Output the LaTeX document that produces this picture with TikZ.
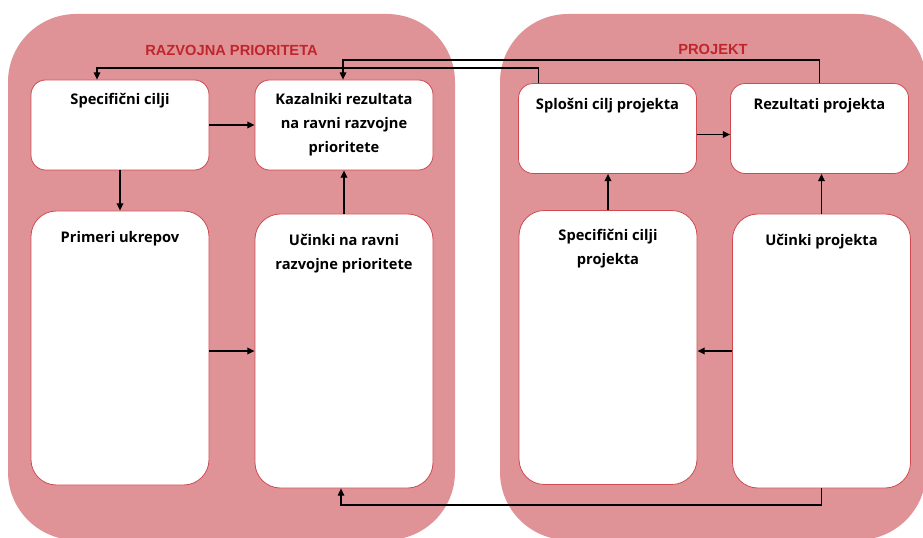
\documentclass[tikz,border=0pt]{standalone}
\usepackage{fontspec}
\setmainfont{Open Sans}
\newfontfamily\titlefont{Liberation Sans}
\usetikzlibrary{arrows.meta,positioning}
\definecolor{panelpink}{HTML}{E09397}
\definecolor{titlered}{HTML}{C0252B}
\definecolor{boxred}{HTML}{CF4A50}

\begin{document}
\begin{tikzpicture}[x=0.75pt,y=-0.75pt,
    panel/.style={fill=panelpink, rounded corners=51pt, minimum height=394.5pt, inner sep=0pt},
    ttl/.style={font=\titlefont\bfseries\fontsize{11}{13}\selectfont, text=titlered},
    box/.style={draw=boxred, line width=0.6pt, fill=white, minimum width=133.5pt, inner sep=0pt},
    topbox/.style={box, rounded corners=11pt, minimum height=67.5pt},
    lowbox/.style={box, rounded corners=19pt, minimum height=205.5pt},
    txt/.style={font=\bfseries\fontsize{11}{18}\selectfont, align=center, anchor=north, inner sep=0pt},
    arr/.style={line width=1pt, -{Triangle[length=5.5pt,width=5pt]}},
    link/.style={line width=0.8pt, -{Triangle[length=5.5pt,width=5pt]}}]

    \useasboundingbox (0,0) rectangle (923,538);

    % panels
    \node[panel, minimum width=335.25pt] (razpan) at (231.5,277) {};
    \node[panel, minimum width=319.5pt] (projpan) at (713,277) {};
    \node[ttl] (raztitle) at ([yshift=-27.75pt]razpan.north) {RAZVOJNA PRIORITETA};
    \node[ttl] (projtitle) at ([yshift=-27pt]projpan.north) {PROJEKT};

    % razvojna prioriteta
    \node[topbox, label={[txt, yshift=-10pt]north:{Specifični cilji}}] (sc) at (120,125) {};
    \node[topbox, label={[txt, yshift=-10pt]north:{Kazalniki rezultata\\na ravni razvojne\\prioritete}}] (kz) at (344,125) {};
    \node[lowbox, label={[txt, yshift=-15pt]north:{Primeri ukrepov}}] (pu) at (120,348) {};
    \node[lowbox, label={[txt, yshift=-15pt]north:{Učinki na ravni\\razvojne prioritete}}] (ucr) at (344,351) {};

    % projekt
    \node[topbox, label={[txt, yshift=-11.5pt]north:{Splošni cilj projekta}}] (sp) at (607.5,128.5) {};
    \node[topbox, label={[txt, yshift=-11.5pt]north:{Rezultati projekta}}] (rp) at (819.5,128.5) {};
    \node[lowbox, label={[txt, yshift=-14pt]north:{Specifični cilji\\projekta}}] (scp) at (608,347.5) {};
    \node[lowbox, label={[txt, yshift=-15pt]north:{Učinki projekta}}] (up) at (821.5,351) {};

    % arrows inside panels
    \draw[arr] (sc) -- (kz);
    \draw[arr] (sc) -- (pu);
    \draw[arr] (ucr) -- (kz);
    \draw[arr] (pu.east |- ucr) -- (ucr.west);
    \draw[arr] ([yshift=-4.5pt]sp.east) -- ([yshift=-4.5pt]rp.west);
    \draw[arr] (scp.north) -- (scp.north |- sp.south);
    \draw[arr] (up.north) -- (up.north |- rp.south);
    \draw[arr] (up.west) -- (up.west -| scp.east);

    % links between panels
    \coordinate (bendA) at (97,68);
    \coordinate (bendB) at (343,60);
    \coordinate (bendC) at (341,505);
    \draw[link] ([xshift=-52pt]sp.north) |- (bendA) -- (bendA |- sc.north);
    \draw[link] (rp.north) |- (bendB) -- (bendB |- kz.north);
    \draw[link] (up.south) |- (bendC) -- (bendC |- ucr.south);
\end{tikzpicture}
\end{document}
